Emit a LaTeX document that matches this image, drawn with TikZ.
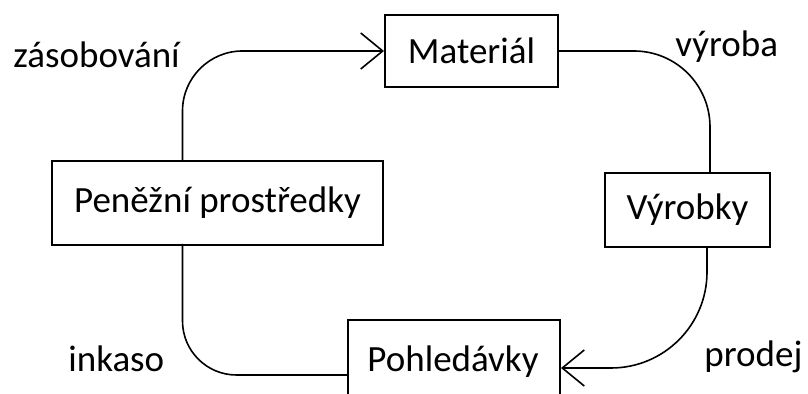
\documentclass[tikz,border=0pt]{standalone}
\usepackage{fontspec}
\setmainfont{Carlito}
\usetikzlibrary{arrows.meta, calc}

\begin{document}
\begin{tikzpicture}[x=0.5pt, y=-0.5pt, >={Straight Barb[length=11pt, width=18pt]},
    font=\fontsize{18.5}{22}\selectfont,
    box/.style={draw, line width=1pt, inner sep=0pt},
    flow/.style={line width=0.8pt},
    tag/.style={inner sep=0pt, anchor=base west}]
    \useasboundingbox (0,0) rectangle (808,394);
    \clip (0,0) rectangle (808,394);

    % Boxes of the cycle
    \node[box, minimum width=86.5pt, minimum height=36pt] (mat) at (471.5, 51) {Materiál};
    \node[box, minimum width=165.5pt, minimum height=42pt] (pen) at (217.5, 203) {Peněžní prostředky};
    \node[box, minimum width=82.5pt, minimum height=37pt] (vyr) at (687.5, 210) {Výrobky};
    % receivables box runs off the bottom edge
    \node[box, anchor=north west, minimum width=106pt, minimum height=60pt] (poh) at (347, 319) {};
    \node[anchor=base] (pohtxt) at (453, 372) {Pohledávky};

    % Flows between the boxes
    \draw[flow, ->, rounded corners=30pt] ([xshift=-17.5pt, yshift=-1pt]pen.north) |- (mat.west);
    \draw[flow, rounded corners=38pt] (mat.east) -| ([xshift=11.25pt]vyr.north);
    \draw[flow, ->, rounded corners=48pt] ([xshift=9.75pt]vyr.south) |- ([yshift=-24.5pt]poh.north east);
    \draw[flow, rounded corners=27pt] ([xshift=-17.5pt, yshift=1pt]pen.south) |- ([yshift=-28pt]poh.north west);

    % Labels
    \node[tag] (zas) at (13, 68) {zásobování};
    \node[tag] (vyroba) at (675, 57) {výroba};
    \node[tag] (inkaso) at (68, 372) {inkaso};
    \node[tag] (prodej) at (704, 367) {prodej};
\end{tikzpicture}
\end{document}
